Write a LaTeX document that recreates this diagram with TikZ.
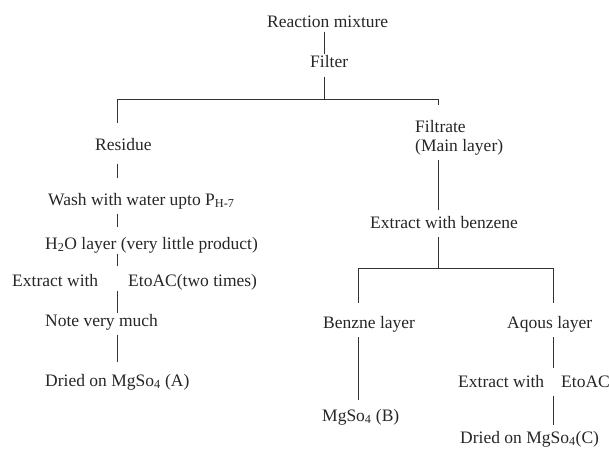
\documentclass[tikz,border=0pt]{standalone}
\usepackage{fontspec}
\setmainfont{Liberation Serif}
\usepackage{tikz}
\tikzset{
  lbl/.style={inner sep=1pt,anchor=base west,font=\fontsize{17.5}{19}\selectfont,text=black!85},
  stage/.style={lbl,text height=12pt,text depth=3.5pt},
  link/.style={draw=black!80,line width=0.75pt},
  gapped/.style={link,shorten <=4pt,shorten >=5pt},
  drop/.style={link,shorten >=14pt},
}

\begin{document}
\begin{tikzpicture}[x=1pt,y=-1pt]
  \useasboundingbox (0,0) rectangle (609,450);
  % junctions of the split bars
  \coordinate (jTop) at (324,99);
  \coordinate (jL) at (117,99);
  \coordinate (jR) at (438,99);
  \coordinate (jB) at (438,268);
  \coordinate (jBL) at (358,268);
  \coordinate (jBR) at (553,268);
  % top
  \node[stage] (nMix) at (266,27) {Reaction mixture};
  \node[stage] (nFilt) at (309,67) {Filter};
  % residue branch
  \node[stage] (nRes) at (94,150) {Residue};
  \node[stage] (nWash) at (47,205) {Wash with water upto P\textsubscript{H-7}};
  \node[stage] (nH2O) at (44,249) {H\textsubscript{2}O layer (very little product)};
  \node[stage] (nExL) at (11,286) {Extract with};
  \node[stage] (nEtL) at (127,286) {EtoAC(two times)};
  \node[stage] (nNote) at (44,326) {Note very much};
  \node[stage] (nDryA) at (44,386) {Dried on MgSo\textsubscript{4} (A)};
  % filtrate branch
  \node[lbl,align=left] (nFiltr) at (414,151) {Filtrate\\(Main layer)};
  \node[stage] (nBz) at (369,228) {Extract with benzene};
  \node[stage] (nBenL) at (322,328) {Benzne layer};
  \node[stage] (nAq) at (506,328) {Aqous layer};
  \node[stage] (nMgB) at (321,421) {MgSo\textsubscript{4} (B)};
  \node[stage] (nExR) at (457,387) {Extract with};
  \node[stage] (nEtR) at (560,387) {EtoAC};
  \node[stage] (nDryC) at (459,443) {Dried on MgSo\textsubscript{4}(C)};

  \draw[link] (nMix.south -| jTop) -- (nFilt.north -| jTop);
  \draw[link,shorten <=5pt] (nFilt.south -| jTop) -- (jTop);
  \draw[link] (jL) -- (jR);
  \draw[drop] (jL) -- (nRes.north -| jL);
  \draw[drop,shorten <=9pt] (nRes.south -| jL) -- (nWash.north -| jL);
  \draw[gapped,shorten >=9pt] (nWash.south -| jL) -- (nH2O.north -| jL);
  \draw[link,shorten >=7pt] (nH2O.south -| jL) -- (nExL.north -| jL);
  \draw[link] (nExL.south -| jL) -- (nNote.north -| jL);
  \draw[gapped,shorten >=11pt] (nNote.south -| jL) -- (nDryA.north -| jL);

  \draw[drop] (jR) -- (nFiltr.north -| jR);
  \draw[gapped] (nFiltr.south -| jR) -- (nBz.north -| jR);
  \draw[link,shorten <=4pt] (nBz.south -| jB) -- (jB);
  \draw[link] (jBL) -- (jBR);
  \draw[drop,shorten >=12pt] (jBL) -- (nBenL.north -| jBL);
  \draw[gapped,shorten >=8pt] (nBenL.south -| jBL) -- (nMgB.north -| jBL);
  \draw[drop,shorten >=12pt] (jBR) -- (nAq.north -| jBR);
  \draw[gapped,shorten >=6pt] (nAq.south -| jBR) -- (nExR.north -| jBR);
  \draw[gapped] (nExR.south -| jBR) -- (nDryC.north -| jBR);
\end{tikzpicture}
\end{document}
